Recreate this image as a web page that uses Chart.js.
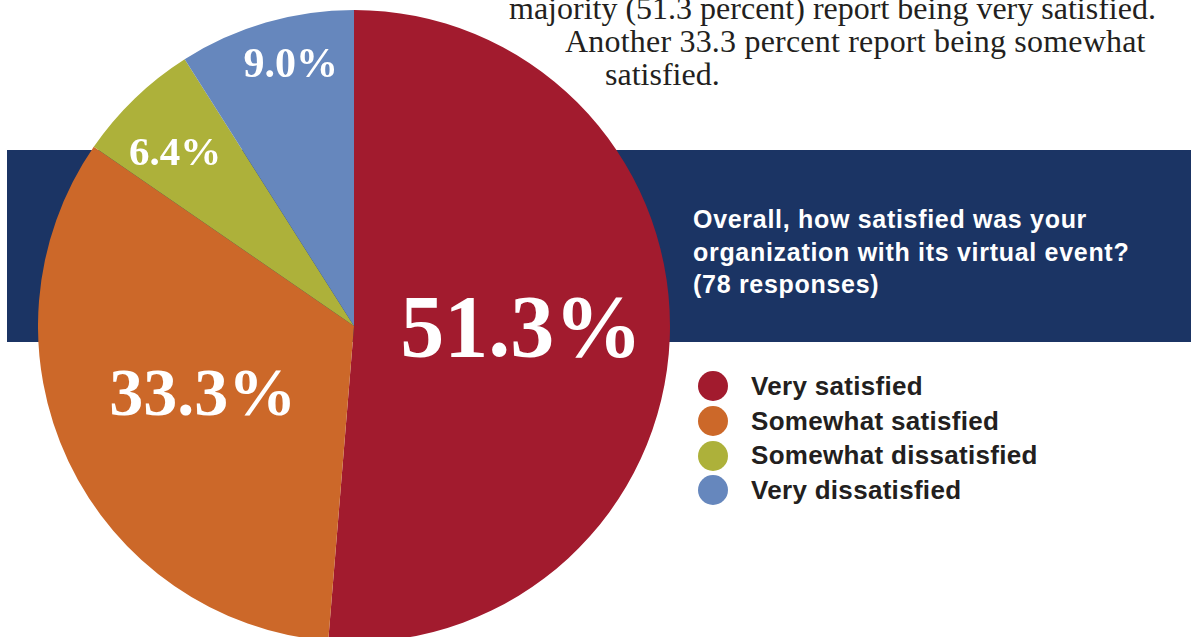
<!DOCTYPE html>
<html>
<head>
<meta charset="utf-8">
<script src="https://cdn.jsdelivr.net/npm/chart.js@4.4.1/dist/chart.umd.min.js"></script>
<style>
    html, body { margin: 0; padding: 0; background: #fff; }
    body { width: 1191px; height: 637px; overflow: hidden; position: relative; }
    #band { position: absolute; left: 7px; top: 150px; width: 1184px; height: 192px; background: #1b3464; }
    #chartBox { position: absolute; left: 38px; top: 10px; width: 632px; height: 632px; }
    .intro { position: absolute; font-family: "Liberation Serif", serif; font-size: 32px; line-height: 33px; color: #231f20; white-space: nowrap; }
    #question { position: absolute; left: 693px; top: 203px; font-family: "Liberation Sans", Arial, sans-serif; font-weight: bold; font-size: 25px; letter-spacing: 0.7px; line-height: 32.5px; color: #fff; white-space: nowrap; }
    #legend { position: absolute; left: 698px; top: 369px; font-family: "Liberation Sans", Arial, sans-serif; font-weight: bold; font-size: 26px; letter-spacing: 0.3px; color: #231f20; white-space: nowrap; }
    .item { height: 34.7px; display: flex; align-items: center; }
    .dot { width: 30px; height: 30px; border-radius: 50%; margin-right: 23px; flex: none; }
</style>
</head>
<body>
<div id="band"></div>
<div class="intro" style="left:509px; top:-8px;">majority (51.3 percent) report being very satisfied.</div>
<div class="intro" style="left:565px; top:25px; letter-spacing:0.2px;">Another 33.3 percent report being somewhat</div>
<div class="intro" style="left:605px; top:58px;">satisfied.</div>
<div id="question">Overall, how satisfied was your<br>organization with its virtual event?<br>(78 responses)</div>
<div id="chartBox"><canvas id="pieChart" width="632" height="632"></canvas></div>
<div id="legend"></div>

<script>
const categorias = ['Very satisfied', 'Somewhat satisfied', 'Somewhat dissatisfied', 'Very dissatisfied'];
const porcentajes = [51.3, 33.3, 6.4, 9.0];
const etiquetas = ['51.3%', '33.3%', '6.4%', '9.0%'];
const colores = ['#a21b2e', '#cc6829', '#adb13a', '#6687bd'];

// label placement: fraction of radius, angle nudge (deg) and font size per slice
const labelRadio = [0.53, 0.53, 0.785, 0.845];
const labelGiro = [0, 0, -2.2, 2.5];
const labelFuente = [88, 68, 41, 42];

const etiquetasPlugin = {
    id: 'etiquetas',
    afterDatasetsDraw(chart) {
        const ctx = chart.ctx;
        const meta = chart.getDatasetMeta(0);
        ctx.save();
        ctx.fillStyle = '#ffffff';
        ctx.textAlign = 'center';
        ctx.textBaseline = 'middle';
        meta.data.forEach((arc, i) => {
            const mid = (arc.startAngle + arc.endAngle) / 2 + labelGiro[i] * Math.PI / 180;
            const r = arc.outerRadius * labelRadio[i];
            const x = arc.x + Math.cos(mid) * r;
            const y = arc.y + Math.sin(mid) * r;
            ctx.font = 'bold ' + labelFuente[i] + 'px "Liberation Serif", serif';
            ctx.fillText(etiquetas[i], x, y);
        });
        ctx.restore();
    }
};

function dibujarGrafico() {
    const ctx = document.getElementById('pieChart').getContext('2d');
    const chart = new Chart(ctx, {
        type: 'pie',
        data: {
            labels: categorias,
            datasets: [{
                data: porcentajes,
                backgroundColor: colores,
                borderWidth: 0
            }]
        },
        options: {
            responsive: false,
            animation: false,
            layout: { padding: 0 },
            plugins: {
                legend: { display: false },
                tooltip: { enabled: false }
            }
        },
        plugins: [etiquetasPlugin]
    });
    llenarLeyenda(chart);
}

function llenarLeyenda(chart) {
    const cont = document.getElementById('legend');
    cont.innerHTML = '';
    chart.data.labels.forEach((l, i) => {
        const color = chart.data.datasets[0].backgroundColor[i];
        cont.innerHTML += `<div class="item"><span class="dot" style="background:${color}"></span>${l}</div>`;
    });
}

dibujarGrafico();
</script>
</body>
</html>
